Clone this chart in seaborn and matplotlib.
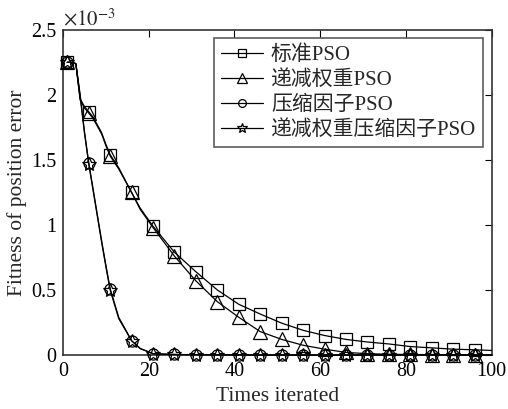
import numpy as np
import pandas as pd
import matplotlib
matplotlib.use('Agg')
import matplotlib.pyplot as plt
import seaborn as sns
from matplotlib.ticker import FuncFormatter

# %% data (fitness in units of 1e-3)
iters = [1, 2, 3, 4, 5, 6, 7, 8, 9, 10, 11, 13, 16, 18, 21, 26, 31, 36, 41, 46,
         51, 56, 61, 66, 71, 76, 81, 86, 91, 96, 100]
std_pso = [2.25, 2.25, 2.24, 1.97, 1.91, 1.87, 1.83, 1.77, 1.71, 1.62, 1.54, 1.44,
           1.25, 1.13, 0.99, 0.79, 0.64, 0.50, 0.39, 0.315, 0.245, 0.19, 0.15,
           0.12, 0.10, 0.085, 0.065, 0.055, 0.045, 0.04, 0.035]
dec_w_pso = [2.25, 2.25, 2.24, 1.96, 1.90, 1.86, 1.82, 1.76, 1.70, 1.61, 1.53, 1.43,
             1.25, 1.12, 0.98, 0.76, 0.57, 0.41, 0.29, 0.18, 0.12, 0.075, 0.045,
             0.02, 0.01, 0.006, 0.004, 0.003, 0.002, 0.002, 0.002]
cf_pso = [2.25, 2.25, 2.24, 2.0, 1.72, 1.48, 1.28, 1.08, 0.88, 0.69, 0.51, 0.29,
          0.11, 0.05, 0.01, 0.004, 0.002, 0.001, 0.001, 0.0, 0.0, 0.0, 0.0, 0.0,
          0.0, 0.0, 0.0, 0.0, 0.0, 0.0, 0.0]
dec_w_cf_pso = [2.25, 2.25, 2.24, 1.99, 1.71, 1.47, 1.27, 1.07, 0.87, 0.68, 0.50,
                0.28, 0.11, 0.05, 0.01, 0.004, 0.002, 0.001, 0.001, 0.0, 0.0, 0.0,
                0.0, 0.0, 0.0, 0.0, 0.0, 0.0, 0.0, 0.0, 0.0]
labels = ['标准PSO', '递减权重PSO', '压缩因子PSO', '递减权重压缩因子PSO']
markers = ['s', '^', 'o', '*']
msizes = [8, 9.5, 8, 10]

# %%
sns.set_style('white')
plt.rcParams['font.family'] = ['Liberation Serif', 'Noto Sans CJK SC']
plt.rcParams['mathtext.fontset'] = 'stix'

fig = plt.figure(figsize=(5.08, 4.09), dpi=100)
ax = fig.add_axes([0.124, 0.132, 0.844, 0.795])

mark = [(i - 1) % 5 == 0 and i <= 96 for i in iters]
series = [std_pso, dec_w_pso, cf_pso, dec_w_cf_pso]
for vals, lab, mk, ms in zip(series, labels, markers, msizes):
    sns.lineplot(x=iters, y=vals, ax=ax, color='k', linewidth=0.9, label=lab,
                 marker=mk, markevery=mark, markersize=ms,
                 markerfacecolor='none', markeredgecolor='k',
                 markeredgewidth=0.9, clip_on=False, zorder=3)

ax.set_xlim(0, 100)
ax.set_ylim(0, 2.5)
ax.set_xticks(np.arange(0, 101, 20))
ax.set_yticks(np.arange(0, 2.51, 0.5))
ax.yaxis.set_major_formatter(FuncFormatter(lambda v, p: '%g' % v))
ax.tick_params(direction='in', length=5, width=0.8, top=True, right=True,
               labelsize=14.5, pad=5, colors='k')
for s in ax.spines.values():
    s.set_color('#333333')
    s.set_linewidth(1.2)
ax.text(0.0, 1.0, r'$\times 10^{-3}$', transform=ax.transAxes, fontsize=15,
        ha='left', va='bottom')
ax.set_xlabel('Times iterated', fontsize=15.5, labelpad=4)
ax.set_ylabel('Fitness of position error', fontsize=15.5, labelpad=3)

leg = ax.legend(loc='upper right', fontsize=15, frameon=True, fancybox=False,
                edgecolor='#333333', handlelength=2, handletextpad=0.4,
                labelspacing=0.25, borderpad=0.35, borderaxespad=0.4,
                markerscale=0.7)
leg.get_frame().set_linewidth(1.2)
leg.set_zorder(5)

fig.savefig('out.png', dpi=100)
